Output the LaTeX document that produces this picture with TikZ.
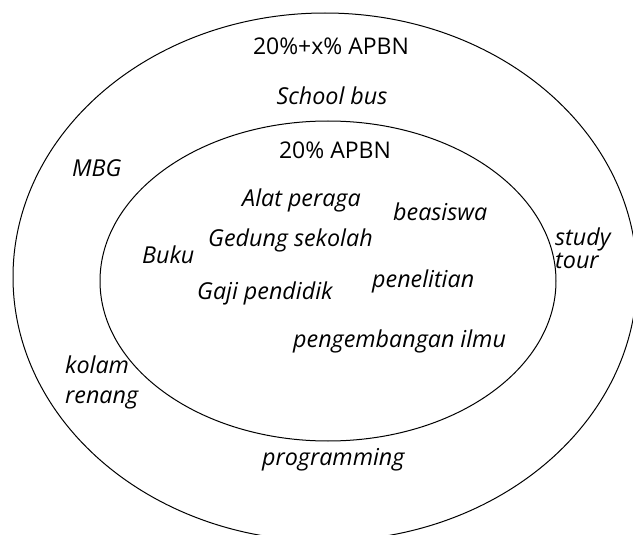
\documentclass[tikz,border=0pt]{standalone}
\usepackage{fontspec}
\setmainfont{Open Sans}
\begin{document}
\begin{tikzpicture}[x=1pt,y=-1pt,
  ring/.style={draw=black,line width=1pt},
  lbl/.style={inner sep=0pt,anchor=base west,font=\fontsize{23.3}{27}\selectfont\itshape},
  head/.style={inner sep=0pt,anchor=base,font=\fontsize{23}{27}\selectfont}]
\useasboundingbox (0,0) rectangle (633,535);
\begin{scope}
\clip (0,0) rectangle (633,535);
\draw[ring] (325,277) ellipse [x radius=312, y radius=264];
\draw[ring] (328,281) ellipse [x radius=228, y radius=160];
\end{scope}
\node[head] (outerT) at (331,55) {20\%+x\% APBN};
\node[lbl,anchor=base] (bus) at (332,105) {School bus};
\node[head] (innerT) at (335,159) {20\% APBN};
\node[lbl] (mbg) at (72,177) {MBG};
\node[lbl] (alat) at (242,207) {Alat peraga};
\node[lbl] (beas) at (393,221) {beasiswa};
\node[lbl] (gedung) at (208,247) {Gedung sekolah};
\node[lbl] (buku) at (142,263) {Buku};
\node[lbl] (gaji) at (197,299) {Gaji pendidik};
\node[lbl] (pene) at (372,287) {penelitian};
\node[lbl] (pengem) at (293,347) {pengembangan ilmu};
\node[lbl] (prog) at (262,465) {programming};
\node[lbl] (kolam) at (65,373) {kolam};
\node[lbl] (renang) at (65,403) {renang};
\node[lbl] (study) at (555,245) {study};
\node[lbl] (tour) at (555,269) {tour};
\end{tikzpicture}
\end{document}
